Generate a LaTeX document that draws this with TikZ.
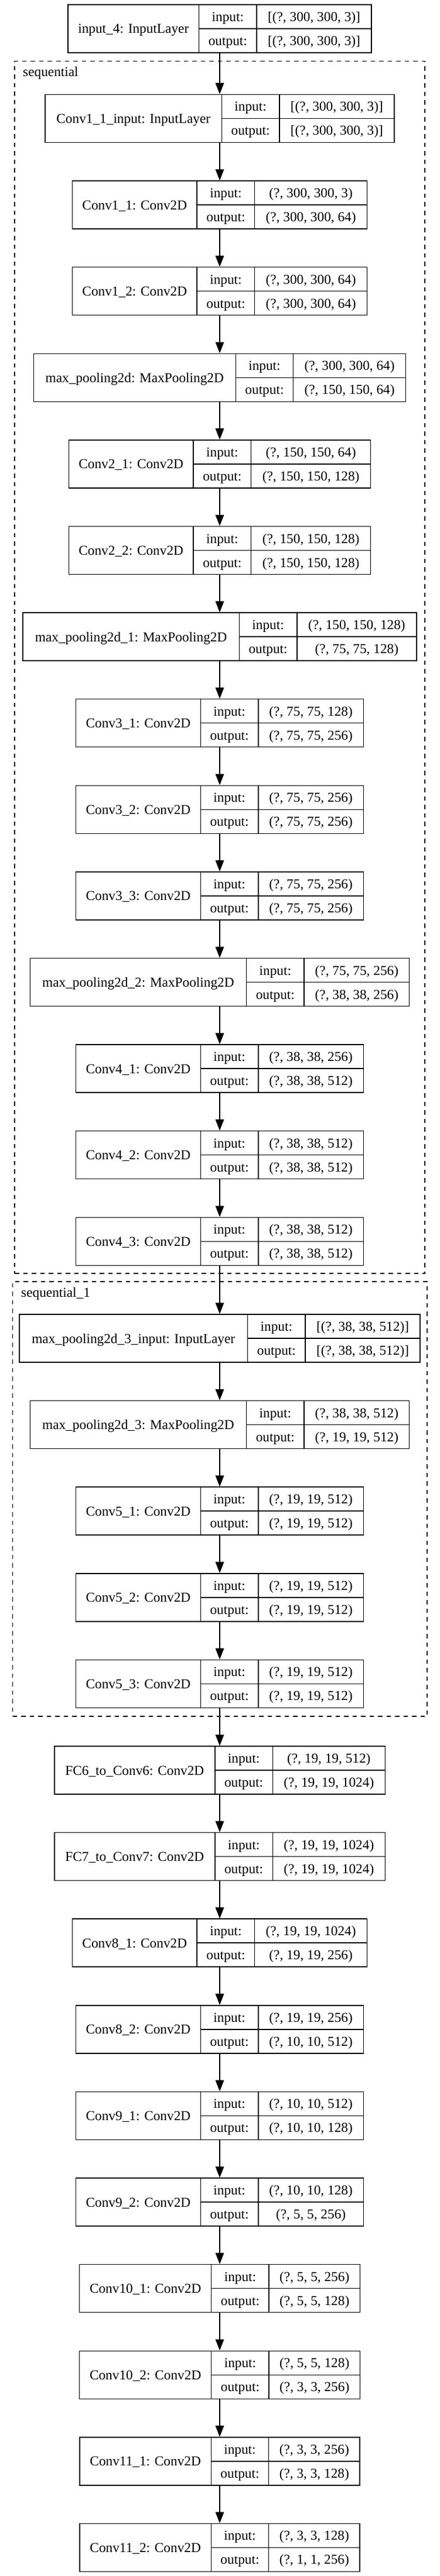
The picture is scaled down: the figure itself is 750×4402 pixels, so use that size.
\documentclass[tikz,border=0pt]{standalone}
\usepackage{fontspec}
\setmainfont{Liberation Serif}
\usetikzlibrary{arrows.meta}
\newlength\wA \newlength\wB \newlength\wC \newlength\wD
\newcommand\mfont{\fontsize{24.5}{29}\selectfont}
\newcommand\rfont{\fontsize{23.3}{28}\selectfont}
\newcommand\measure[3]{%
  \settowidth\wA{#1}\global\wA=\wA
  \settowidth\wB{output:}\global\wB=\wB
  \settowidth\wC{#2}\settowidth\wD{#3}%
  \ifdim\wD>\wC \wC=\wD\fi \global\wC=\wC}
\tikzset{
  box/.style={draw, line width=1.5pt, rectangle, inner sep=0pt, minimum height=82pt},
  rec/.style={line width=1.5pt},
  lbl/.style={anchor=base, inner sep=0pt, font=\rfont},
  meas/.style={inner sep=0pt, font=\mfont},
  arr/.style={line width=1.5pt, -{Triangle[length=19pt, width=14.5pt]}},
  clus/.style={draw, line width=1.3pt, dash pattern=on 7.5pt off 7pt, rectangle, inner sep=0pt}
}
\newcommand\layer[5]{%
  \path node[meas] (#1-m) at (375, #2) {\measure{#3}{#4}{#5}};
  \pgfmathsetmacro\pA{\wA+25}%
  \pgfmathsetmacro\pB{\wB+29}%
  \pgfmathsetmacro\pC{\wC+30}%
  \pgfmathsetmacro\xl{375-(\pA+\pB+\pC)/2}%
  \pgfmathsetmacro\xa{\xl+\pA}%
  \pgfmathsetmacro\xb{\xa+\pB}%
  \pgfmathsetmacro\xr{\xb+\pC}%
  \pgfmathsetmacro\tw{\pA+\pB+\pC}%
  \node[box, minimum width=\tw pt] (#1) at (375, #2+41) {};
  \draw[rec] (\xa, #2) -- (\xa, #2+82);
  \draw[rec] (\xb, #2) -- (\xb, #2+82);
  \draw[rec] (\xa, #2+41) -- (\xr, #2+41);
  \node[lbl] (#1-n) at ({(\xl+\xa)/2}, #2+49) {#3};
  \node[lbl] (#1-i) at ({(\xa+\xb)/2}, #2+28.5) {input:};
  \node[lbl] (#1-o) at ({(\xa+\xb)/2}, #2+69.5) {output:};
  \node[lbl] (#1-si) at ({(\xb+\xr)/2}, #2+28.5) {#4};
  \node[lbl] (#1-so) at ({(\xb+\xr)/2}, #2+69.5) {#5};
}
\begin{document}
\begin{tikzpicture}[x=1pt, y=-1pt]
\useasboundingbox (0,0) rectangle (750,4402);
% clusters
\node[clus, minimum width=700pt, minimum height=2071.5pt] (seq) at (375, 1140.25) {};
\node[lbl, anchor=base west] (seqlab) at (39, 131) {sequential};
\node[clus, minimum width=707.5pt, minimum height=743pt] (seq1) at (375.25, 2561.5) {};
\node[lbl, anchor=base west] (seq1lab) at (36, 2216.7) {sequential\_1};
% layers
\layer{L1}{8}{input\_4: InputLayer}{[(?, 300, 300, 3)]}{[(?, 300, 300, 3)]}
\layer{L2}{161.5}{Conv1\_1\_input: InputLayer}{[(?, 300, 300, 3)]}{[(?, 300, 300, 3)]}
\layer{L3}{309.1}{Conv1\_1: Conv2D}{(?, 300, 300, 3)}{(?, 300, 300, 64)}
\layer{L4}{456.7}{Conv1\_2: Conv2D}{(?, 300, 300, 64)}{(?, 300, 300, 64)}
\layer{L5}{604.3}{max\_pooling2d: MaxPooling2D}{(?, 300, 300, 64)}{(?, 150, 150, 64)}
\layer{L6}{751.9}{Conv2\_1: Conv2D}{(?, 150, 150, 64)}{(?, 150, 150, 128)}
\layer{L7}{899.5}{Conv2\_2: Conv2D}{(?, 150, 150, 128)}{(?, 150, 150, 128)}
\layer{L8}{1047.1}{max\_pooling2d\_1: MaxPooling2D}{(?, 150, 150, 128)}{(?, 75, 75, 128)}
\layer{L9}{1194.7}{Conv3\_1: Conv2D}{(?, 75, 75, 128)}{(?, 75, 75, 256)}
\layer{L10}{1342.3}{Conv3\_2: Conv2D}{(?, 75, 75, 256)}{(?, 75, 75, 256)}
\layer{L11}{1489.9}{Conv3\_3: Conv2D}{(?, 75, 75, 256)}{(?, 75, 75, 256)}
\layer{L12}{1637.5}{max\_pooling2d\_2: MaxPooling2D}{(?, 75, 75, 256)}{(?, 38, 38, 256)}
\layer{L13}{1785.1}{Conv4\_1: Conv2D}{(?, 38, 38, 256)}{(?, 38, 38, 512)}
\layer{L14}{1932.7}{Conv4\_2: Conv2D}{(?, 38, 38, 512)}{(?, 38, 38, 512)}
\layer{L15}{2080.3}{Conv4\_3: Conv2D}{(?, 38, 38, 512)}{(?, 38, 38, 512)}
\layer{L16}{2246}{max\_pooling2d\_3\_input: InputLayer}{[(?, 38, 38, 512)]}{[(?, 38, 38, 512)]}
\layer{L17}{2393.6}{max\_pooling2d\_3: MaxPooling2D}{(?, 38, 38, 512)}{(?, 19, 19, 512)}
\layer{L18}{2541.2}{Conv5\_1: Conv2D}{(?, 19, 19, 512)}{(?, 19, 19, 512)}
\layer{L19}{2688.8}{Conv5\_2: Conv2D}{(?, 19, 19, 512)}{(?, 19, 19, 512)}
\layer{L20}{2836.4}{Conv5\_3: Conv2D}{(?, 19, 19, 512)}{(?, 19, 19, 512)}
\layer{L21}{2984}{FC6\_to\_Conv6: Conv2D}{(?, 19, 19, 512)}{(?, 19, 19, 1024)}
\layer{L22}{3131.6}{FC7\_to\_Conv7: Conv2D}{(?, 19, 19, 1024)}{(?, 19, 19, 1024)}
\layer{L23}{3279.2}{Conv8\_1: Conv2D}{(?, 19, 19, 1024)}{(?, 19, 19, 256)}
\layer{L24}{3426.8}{Conv8\_2: Conv2D}{(?, 19, 19, 256)}{(?, 10, 10, 512)}
\layer{L25}{3574.4}{Conv9\_1: Conv2D}{(?, 10, 10, 512)}{(?, 10, 10, 128)}
\layer{L26}{3722}{Conv9\_2: Conv2D}{(?, 10, 10, 128)}{(?, 5, 5, 256)}
\layer{L27}{3869.6}{Conv10\_1: Conv2D}{(?, 5, 5, 256)}{(?, 5, 5, 128)}
\layer{L28}{4017.2}{Conv10\_2: Conv2D}{(?, 5, 5, 128)}{(?, 3, 3, 256)}
\layer{L29}{4164.8}{Conv11\_1: Conv2D}{(?, 3, 3, 256)}{(?, 3, 3, 128)}
\layer{L30}{4312.4}{Conv11\_2: Conv2D}{(?, 3, 3, 128)}{(?, 1, 1, 256)}
% connectors
\foreach \a [evaluate=\a as \b using int(\a+1)] in {1,...,29}
  \draw[arr] (L\a.south) -- (L\b.north);
\end{tikzpicture}
\end{document}
